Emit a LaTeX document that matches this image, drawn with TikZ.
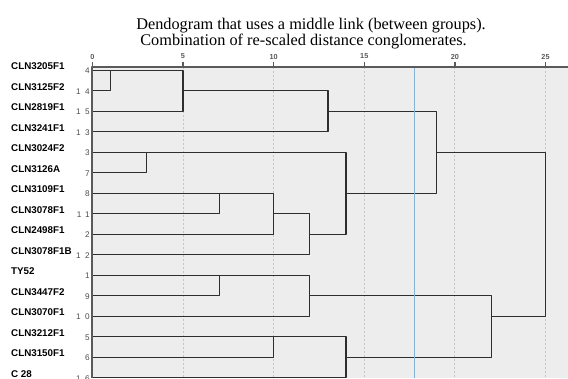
\documentclass[tikz,border=0pt]{standalone}
\usepackage{fontspec}
\setmainfont{Liberation Serif}
\newfontfamily\leaffont{Liberation Sans}
\newfontfamily\numfont[LetterSpace=55]{Liberation Sans}
\definecolor{plotbg}{HTML}{EDEDED}
\definecolor{linkgray}{HTML}{2E2E2E}
\definecolor{axisgray}{HTML}{5A5A5A}
\definecolor{gridgray}{HTML}{C4C4C4}
\definecolor{cutblue}{HTML}{82B2D6}
\newcommand{\vx}[1]{92.3+18.13*(#1)}
\tikzset{
  title/.style={anchor=base, inner sep=0pt, font=\fontsize{16.3}{18}\selectfont},
  leaf/.style={anchor=west, inner sep=0pt, font=\fontsize{9.8}{10}\selectfont\leaffont\bfseries},
  num/.style={anchor=east, inner sep=0pt, text=black!70, font=\fontsize{8.2}{9}\selectfont\numfont},
  ticklab/.style={inner sep=0pt, text=black!65, font=\fontsize{7.3}{8}\selectfont\leaffont\bfseries},
  link/.style={draw=linkgray, line width=1.25pt},
  grid/.style={draw=gridgray, line width=0.9pt, dash pattern=on 2pt off 2pt},
}
\begin{document}
\begin{tikzpicture}[x=1pt, y=-1pt, line join=round]
\useasboundingbox (0,0) rectangle (568,378);
% plot area
\coordinate (o) at (92.3,66.7);
\fill[plotbg] (o) rectangle (568,378);
\foreach \v in {5,10,...,25}
  \draw[grid] ({\vx{\v}},66.7) -- ({\vx{\v}},378);
\foreach \v in {0,5,...,25}{
  \draw[axisgray, line width=1.3pt] ({\vx{\v}},61.5) -- ({\vx{\v}},66.7);
  \node[ticklab] (t\v) at ({\vx{\v}},56.5) {\v};
}
% titles
\node[title] (title1) at (311,29.5) {Dendogram that uses a middle link (between groups).};
\node[title] (title2) at (303.5,45.5) {Combination of re-scaled distance conglomerates.};
% leaves
\foreach \lab/\num [count=\i from 0] in {CLN3205F1/4, CLN3125F2/14, CLN2819F1/15, CLN3241F1/13, CLN3024F2/3, CLN3126A/7, CLN3109F1/8, CLN3078F1/11, CLN2498F1/2, CLN3078F1B/12, TY52/1, CLN3447F2/9, CLN3070F1/10, CLN3212F1/5, CLN3150F1/6, C 28/16}{
  \coordinate (r\i) at (92.3,{70.25+20.5*\i});
  \node[leaf] (lab\i) at (11,{66.25+20.5*\i}) {\lab};
  \node[num] (num\i) at (90,{70.75+20.5*\i}) {\num};
}
% merge points
\foreach \m/\v/\r in {m1/1/r0, m2/5/r1, m3/13/r2, m4/3/r4, m5/7/r6, m6/10/r7, m7/12/r8, m8/14/r6, m9/19/r4, m10/7/r10, m11/12/r11, m12/10/r13, m13/14/r14, m14/22/r12, m15/25/r8}
  \path (\r) ++({18.13*\v},0) coordinate (\m);
% links
\foreach \a/\m/\b in {r0/m1/r1, m1/m2/r2, m2/m3/r3, r4/m4/r5, r6/m5/r7, m5/m6/r8, m6/m7/r9, m4/m8/m7, m3/m9/m8, r10/m10/r11, m10/m11/r12, r13/m12/r14, m12/m13/r15, m11/m14/m13, m9/m15/m14}
  \draw[link] (\a) -- (\a -| \m) -- (\b -| \m) -- (\b);
% cut line
\draw[cutblue, line width=1pt] ({\vx{17.76}},66.7) -- ({\vx{17.76}},378);
% axes
\draw[axisgray, line width=1.8pt] (92.3,378) -- (o) -- (568,66.7);
\end{tikzpicture}
\end{document}
